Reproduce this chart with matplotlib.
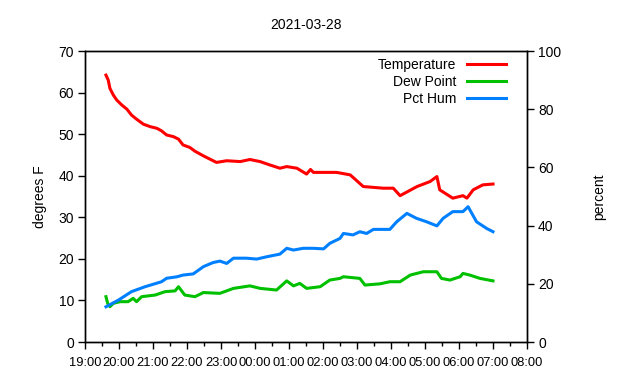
import matplotlib
matplotlib.use("Agg")
import matplotlib.pyplot as plt
import matplotlib.dates as mdates
import pandas as pd

plt.rcParams['font.family'] = ['Liberation Sans', 'DejaVu Sans']
plt.rcParams['font.size'] = 10

# readings, times on the night of 2021-03-27 -> 2021-03-28
temp_times = ["19:37", "19:41", "19:44", "19:50", "19:56", "20:05", "20:14", "20:22",
              "20:31", "20:43", "20:55", "21:07", "21:15", "21:24", "21:36", "21:45",
              "21:53", "22:05", "22:14", "22:26", "22:30", "22:52", "23:10", "23:34",
              "23:51", "00:09", "00:26", "00:44", "00:56", "01:14", "01:31", "01:38",
              "01:43", "02:01", "02:24", "02:48", "03:11", "03:46", "04:04", "04:16",
              "04:46", "05:09", "05:21", "05:26", "05:49", "06:07", "06:14", "06:25",
              "06:42", "07:00"]
temp_vals = [64.2, 63.0, 61.0, 59.4, 58.2, 57.0, 56.0, 54.6,
             53.6, 52.4, 51.8, 51.4, 50.8, 49.8, 49.4, 48.8,
             47.4, 46.8, 45.9, 45.0, 44.7, 43.2, 43.6, 43.4,
             43.9, 43.4, 42.6, 41.8, 42.2, 41.8, 40.4, 41.5,
             40.8, 40.8, 40.8, 40.2, 37.4, 37.0, 37.0, 35.2,
             37.4, 38.6, 39.8, 36.6, 34.6, 35.2, 34.6, 36.6,
             37.8, 38.0]

dew_times = ["19:37", "19:40", "19:44", "19:50", "20:02", "20:16", "20:25", "20:31",
             "20:40", "21:04", "21:21", "21:39", "21:45", "21:56", "22:14", "22:29",
             "22:58", "23:22", "23:51", "00:09", "00:38", "00:56", "01:08", "01:19",
             "01:31", "01:55", "02:12", "02:30", "02:36", "03:05", "03:14", "03:41",
             "03:58", "04:16", "04:34", "04:57", "05:21", "05:29", "05:44", "06:02",
             "06:07", "06:19", "06:37", "07:00"]
dew_vals = [10.9, 9.3, 8.5, 9.3, 9.7, 9.7, 10.5, 9.7,
            10.9, 11.3, 12.1, 12.3, 13.3, 11.3, 10.9, 11.9,
            11.7, 12.9, 13.5, 12.9, 12.5, 14.7, 13.5, 14.1,
            12.9, 13.3, 14.9, 15.3, 15.7, 15.3, 13.7, 14.0,
            14.5, 14.5, 16.1, 16.9, 16.9, 15.3, 14.9, 15.7,
            16.5, 16.1, 15.3, 14.7]

hum_times = ["19:37", "19:59", "20:22", "20:46", "21:15", "21:24", "21:42", "21:53",
             "22:11", "22:29", "22:46", "22:58", "23:10", "23:22", "23:45", "00:03",
             "00:21", "00:44", "00:56", "01:08", "01:25", "01:43", "02:01", "02:12",
             "02:30", "02:36", "02:53", "03:05", "03:17", "03:29", "03:58", "04:10",
             "04:28", "04:45", "05:03", "05:21", "05:32", "05:49", "06:07", "06:16",
             "06:31", "06:49", "07:00"]
hum_vals = [12.1, 14.4, 17.3, 19.0, 20.7, 21.9, 22.4, 23.0,
            23.4, 25.9, 27.3, 27.8, 27.0, 28.8, 28.8, 28.5,
            29.3, 30.2, 32.2, 31.6, 32.2, 32.2, 32.0, 33.9,
            35.6, 37.3, 36.8, 37.9, 37.3, 38.7, 38.7, 41.3,
            44.2, 42.5, 41.3, 39.9, 42.5, 44.8, 44.8, 46.5,
            41.3, 39.0, 37.9]


def to_dt(times):
    out = []
    for t in times:
        day = "2021-03-27" if int(t[:2]) >= 12 else "2021-03-28"
        out.append(pd.Timestamp(day + " " + t))
    return out


fig = plt.figure(figsize=(6.4, 3.8), dpi=100)
ax = fig.add_axes([85 / 640, 38 / 380, 442 / 640, 291 / 380])
ax2 = ax.twinx()

l1, = ax.plot(to_dt(temp_times), temp_vals, color="#ff0000", lw=2.2, label="Temperature")
l2, = ax.plot(to_dt(dew_times), dew_vals, color="#00c000", lw=2.2, label="Dew Point")
l3, = ax2.plot(to_dt(hum_times), hum_vals, color="#0080ff", lw=2.2, label="Pct Hum")

ax.set_xlim(pd.Timestamp("2021-03-27 19:00"), pd.Timestamp("2021-03-28 08:00"))
ax.set_ylim(0, 70)
ax2.set_ylim(0, 100)
ax.set_yticks(range(0, 71, 10))
ax2.set_yticks(range(0, 101, 20))
ax.xaxis.set_major_locator(mdates.HourLocator())
ax.xaxis.set_minor_locator(mdates.MinuteLocator(byminute=30))
ax.xaxis.set_major_formatter(mdates.DateFormatter("%H:%M"))

for a in (ax, ax2):
    a.tick_params(direction="out", length=5, width=1, colors="black", labelsize=10, pad=3)
    a.tick_params(which="minor", direction="out", length=3, width=1)
    for s in a.spines.values():
        s.set_linewidth(1)
ax.tick_params(axis="x", pad=6, labelsize=9.3)

ax.set_ylabel("degrees F", labelpad=8)
ax2.set_ylabel("percent", labelpad=22)
ax.set_title("2021-03-28", fontsize=10, pad=16)

ax.legend([l1, l2, l3], ["Temperature", "Dew Point", "Pct Hum"], loc="upper right",
          bbox_to_anchor=(0.965, 0.995), frameon=False, markerfirst=False,
          handlelength=2.8, handletextpad=0.8, labelspacing=0.2, borderaxespad=0)

fig.savefig("out.png", dpi=100)
